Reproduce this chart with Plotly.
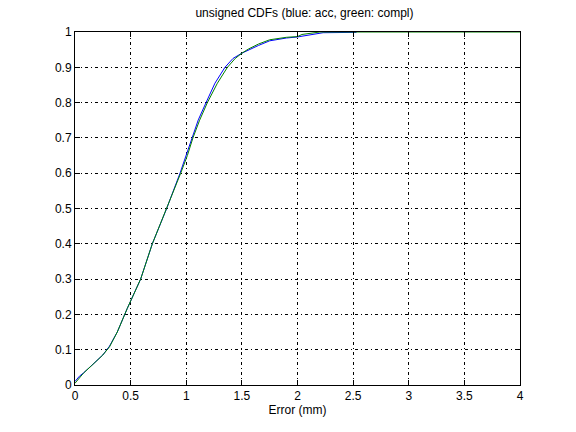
import plotly.graph_objects as go

# blue: acc
acc_x = [0, 0.04, 0.08, 0.15, 0.25, 0.31, 0.38, 0.47, 0.59, 0.695, 0.824, 0.944, 1.004, 1.048, 1.108, 1.178, 1.258, 1.348, 1.42, 1.50, 1.56, 1.65, 1.75, 1.90, 2.00, 2.10, 2.23, 2.53]
acc_y = [0.01, 0.025, 0.035, 0.055, 0.085, 0.11, 0.15, 0.217, 0.30, 0.40, 0.50, 0.60, 0.656, 0.70, 0.751, 0.80, 0.855, 0.90, 0.925, 0.94, 0.949, 0.962, 0.975, 0.983, 0.986, 0.991, 0.998, 0.999]

# green: compl
compl_x = [0, 0.04, 0.08, 0.15, 0.25, 0.31, 0.38, 0.47, 0.59, 0.695, 0.824, 0.95, 1.01, 1.06, 1.12, 1.19, 1.28, 1.37, 1.44, 1.50, 1.56, 1.65, 1.75, 1.90, 2.00, 2.04, 2.20, 4.0]
compl_y = [0.005, 0.02, 0.035, 0.055, 0.085, 0.108, 0.15, 0.217, 0.30, 0.40, 0.50, 0.60, 0.65, 0.70, 0.75, 0.80, 0.855, 0.90, 0.925, 0.94, 0.952, 0.966, 0.978, 0.985, 0.987, 0.993, 1.0, 1.0]

x_ticks = [0, 0.5, 1, 1.5, 2, 2.5, 3, 3.5, 4]
x_labels = ["0", "0.5", "1", "1.5", "2", "2.5", "3", "3.5", "4"]
y_ticks = [0, 0.1, 0.2, 0.3, 0.4, 0.5, 0.6, 0.7, 0.8, 0.9, 1]
y_labels = ["0", "0.1", "0.2", "0.3", "0.4", "0.5", "0.6", "0.7", "0.8", "0.9", "1"]

FONT = "Liberation Sans, Arial, Helvetica"

fig = go.Figure()
fig.add_trace(go.Scatter(x=acc_x, y=acc_y, mode="lines", line=dict(color="#0000ff", width=1), name="acc"))
fig.add_trace(go.Scatter(x=compl_x, y=compl_y, mode="lines", line=dict(color="#008000", width=1), name="compl"))

axis_common = dict(
    showline=True, linecolor="black", linewidth=1, mirror="ticks",
    ticks="inside", ticklen=5, tickcolor="black",
    showgrid=True, gridcolor="black", gridwidth=1, griddash="3px,3px,1px,3px",
    zeroline=False, tickfont=dict(family=FONT, size=12, color="black"),
)

fig.update_layout(
    width=576, height=432,
    margin=dict(l=75, r=56, t=32, b=47),
    paper_bgcolor="white", plot_bgcolor="white",
    showlegend=False,
    title=dict(text="unsigned CDFs (blue: acc, green: compl)", x=297 / 576, xref="paper", xanchor="center",
               y=1 - 13 / 432, yanchor="middle", font=dict(family=FONT, size=12, color="black")),
    xaxis=dict(range=[0, 4], tickvals=x_ticks, ticktext=x_labels,
               title=dict(text="Error (mm)", font=dict(family=FONT, size=12, color="black"), standoff=2),
               **axis_common),
    yaxis=dict(range=[0, 1], tickvals=y_ticks, ticktext=y_labels, **axis_common),
)

fig.write_html("out.html", config={"displayModeBar": False},
               post_script="document.body.style.margin='0';")
